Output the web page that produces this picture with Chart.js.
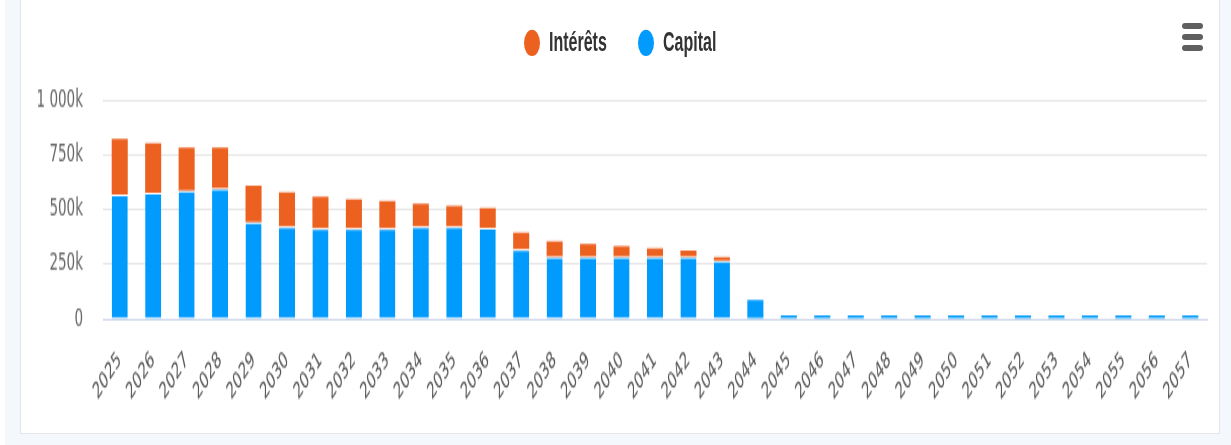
<!DOCTYPE html>
<html lang="fr">
<head>
<meta charset="utf-8">
<title>Intérêts et capital</title>
<script src="https://cdn.jsdelivr.net/npm/chart.js@4.4.1/dist/chart.umd.min.js"></script>
<style>
  html, body { margin: 0; padding: 0; background: #fff; }
  body { width: 1231px; height: 445px; position: relative; overflow: hidden; }
  #bg { position: absolute; left: 5px; top: 0; right: 0; bottom: 0; background: #f4f7fb; }
  #panel { position: absolute; left: 20px; top: -1px; width: 1198px; height: 433px;
           background: #fff; border: 1px solid #e4e6ea; }
  /* the source screenshot is stretched vertically, so the chart is drawn short and scaled */
  #stretch { position: absolute; left: 0; top: 0; width: 1231px; height: 254px;
             transform: scaleY(1.752); transform-origin: 0 0; }
  #legend { position: absolute; left: 0; top: 0; width: 1231px; height: 40px; }
  .item { position: absolute; top: 15px; display: flex; align-items: center;
          font: bold 16px "Liberation Sans", Arial, sans-serif; color: #333; }
  .dot { width: 16px; height: 15px; border-radius: 50%; margin-right: 9px; }
  #menu { position: absolute; left: 1182px; top: 23px; width: 21px; }
  #menu span { display: block; height: 6px; margin-bottom: 5px; border-radius: 3px; background: #5f5f5f; }
  canvas { position: absolute; left: 0; top: 0; }
</style>
</head>
<body>
<div id="bg"></div>
<div id="panel"></div>
<div id="stretch">
  <div id="legend"></div>
  <canvas id="chart" width="1231" height="254"></canvas>
</div>
<div id="menu"><span></span><span></span><span></span></div>
<script>
const years = ['2025', '2026', '2027', '2028', '2029', '2030', '2031', '2032', '2033', '2034',
  '2035', '2036', '2037', '2038', '2039', '2040', '2041', '2042', '2043', '2044',
  '2045', '2046', '2047', '2048', '2049', '2050', '2051', '2052', '2053', '2054',
  '2055', '2056', '2057'];

const capital = [571000, 579000, 589000, 598000, 444000, 425000, 415000, 415000, 415000, 425000,
  425000, 418000, 319000, 285000, 285000, 285000, 285000, 285000, 268000, 87000,
  17000, 17000, 17000, 17000, 17000, 17000, 17000, 17000, 17000, 17000,
  17000, 17000, 17000];

const interets = [255000, 227000, 197000, 188000, 166000, 156000, 145000, 134000, 125000, 104000,
  93000, 90000, 77000, 70000, 59000, 48000, 38000, 28000, 16000, 0,
  0, 0, 0, 0, 0, 0, 0, 0, 0, 0,
  0, 0, 0];

const yTickValues = [0, 250000, 500000, 750000, 1000000];
const yTickLabels = ['0', '250k', '500k', '750k', '1 000k'];

const orange = '#ec6120';
const blue = '#019bfe';

const datasets = [
  {
    label: 'Capital',
    data: capital,
    backgroundColor: blue,
    borderColor: '#fff',
    // white line between the two stacked parts, only where there is an interest part
    borderWidth: (c) => (interets[c.dataIndex] > 0 ? { top: 1, left: 0, right: 0, bottom: 0 } : 0),
    borderSkipped: false,
    inflateAmount: 0,
  },
  {
    label: 'Intérêts',
    data: interets,
    backgroundColor: orange,
    borderWidth: 0,
    inflateAmount: 0,
  },
];

// legend (Intérêts first, as in the original)
const legendLeft = [524, 638];
const legendEl = document.getElementById('legend');
datasets.slice().reverse().forEach((ds, i) => {
  const item = document.createElement('div');
  item.className = 'item';
  item.style.left = legendLeft[i] + 'px';
  const dot = document.createElement('span');
  dot.className = 'dot';
  dot.style.background = ds.backgroundColor;
  const txt = document.createElement('span');
  txt.textContent = ds.label;
  item.appendChild(dot);
  item.appendChild(txt);
  legendEl.appendChild(item);
});

const ctx = document.getElementById('chart').getContext('2d');
new Chart(ctx, {
  type: 'bar',
  data: { labels: years, datasets },
  options: {
    responsive: false,
    devicePixelRatio: 1,
    animation: false,
    layout: { padding: { top: 57.6, right: 24, bottom: 0, left: 0 } },
    plugins: { legend: { display: false }, tooltip: { enabled: false } },
    datasets: { bar: { categoryPercentage: 0.8, barPercentage: 0.6 } },
    scales: {
      x: {
        stacked: true,
        grid: { display: false, drawTicks: false },
        border: { display: true, color: '#ccd6eb', width: 1 },
        ticks: {
          autoSkip: false,
          minRotation: 42,
          maxRotation: 42,
          padding: 16,
          color: '#555',
          font: { family: 'DejaVu Sans', size: 13 },
        },
        afterFit: (scale) => { scale.height = 72; },
      },
      y: {
        stacked: true,
        min: 0,
        max: 1000000,
        grid: { color: '#e6e6e6', lineWidth: 1, drawTicks: false },
        border: { display: false },
        ticks: {
          stepSize: 250000,
          padding: 20,
          color: '#666',
          font: { family: 'DejaVu Sans', size: 13.5 },
          callback: (v) => {
            const i = yTickValues.indexOf(v);
            return i >= 0 ? yTickLabels[i] : '';
          },
        },
        afterFit: (scale) => { scale.width = 103; },
      },
    },
  },
});
</script>
</body>
</html>
